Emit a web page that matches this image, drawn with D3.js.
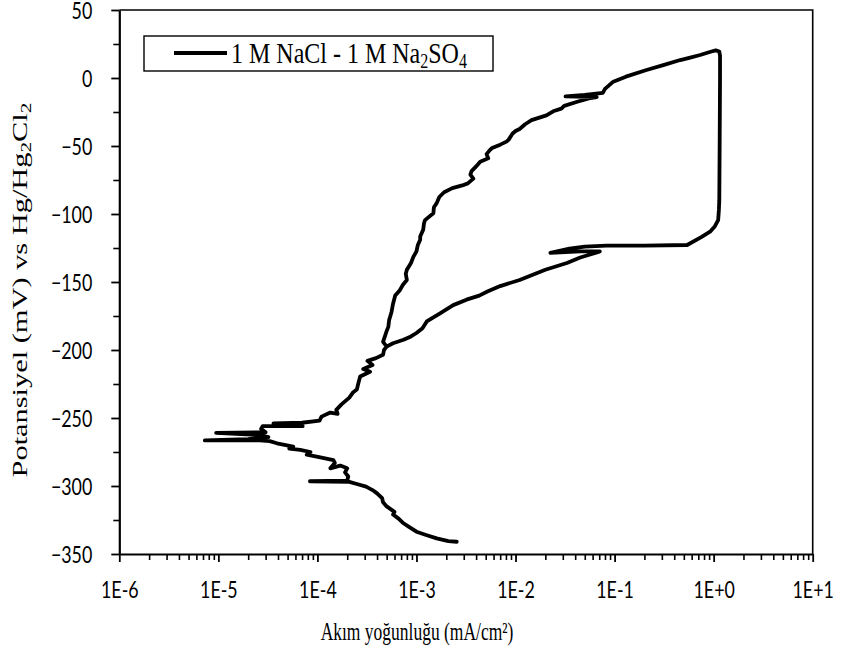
<!DOCTYPE html>
<html><head><meta charset="utf-8">
<script src="https://cdn.jsdelivr.net/npm/d3@7"></script>
<style>body{margin:0;background:#fff}svg{display:block}</style>
</head><body>
<svg id="c" width="845" height="652"></svg>
<script>
// Potential (mV vs Hg/Hg2Cl2) and current density (mA/cm²), in scan order
const potential = [
-341,-340.5,-338.5,-336,-333.6,-330,-327.4,-324,-321,-319,-315,-312,-309,-305.4,-303,-300.5,-298.5,-297,-296.5,-296,
-293,-290,-287,-285,-287,-283,-281,-279,-277,-275,-273.5,-272.5,-271,-268.6,-267,-266.5,-266.5,-265.5,-264,-262.5,
-261,-260.5,-258,-256,-256,-254,-253.5,-252,-249,-246,-247,-244,-240,-235,-231,-229,-224,-219.5,-216,-214,
-211,-208,-206,-203.5,-200,-197.5,-194,-190,-186,-183,-178,-172,-166,-160,-156,-152,-148.5,-144,-141,-136,
-131.5,-127.5,-123,-119,-116.5,-111.5,-107,-104.5,-99.5,-95,-92,-87.5,-84,-81,-79,-77.5,-74,-71,-68.5,-65,
-61.5,-59,-56,-53,-51.5,-49,-46.8,-45.5,-41,-39,-37.5,-34,-31,-27.5,-24.5,-22.5,-20.5,-17.5,-15,-14,
-13.5,-12.5,-11,-8,-2.7,1,5.9,9.5,13.2,15,16.9,19.5,20.3,19.5,16.5,0,-50,-90,-97,-101,
-104.5,-109,-113,-117,-122.8,-123.3,-123.3,-124,-125.5,-128.5,-127.5,-127.5,-128.5,-132,-136,-141,-148.5,-153,-157,-160,
-163,-167,-173,-179,-184,-187.5,-190,-192.5,-195,-197.5
];
const current = [
2.55e-3,2.1e-3,1.6e-3,1.25e-3,1.0e-3,8.4e-4,7.4e-4,6.6e-4,5.8e-4,6.0e-4,5.0e-4,4.6e-4,4.5e-4,4.0e-4,3.6e-4,3.1e-4,2.5e-4,2.1e-4,8.4e-5,2.0e-4,
2.05e-4,1.9e-4,2.0e-4,1.7e-4,1.35e-4,1.5e-4,1.45e-4,1.07e-4,7.8e-5,8.5e-5,6.7e-5,5.2e-5,5.7e-5,3.9e-5,3.3e-5,2.6e-5,7.3e-6,2.0e-5,3.2e-5,2.6e-5,
9.5e-6,3.0e-5,2.7e-5,2.8e-5,7.1e-5,3.6e-5,7.0e-5,1.05e-4,1.1e-4,1.35e-4,1.6e-4,1.55e-4,1.75e-4,2.1e-4,2.3e-4,2.5e-4,2.6e-4,2.7e-4,3.4e-4,2.9e-4,
3.6e-4,3.2e-4,3.9e-4,4.6e-4,4.7e-4,5.0e-4,4.6e-4,4.8e-4,5.0e-4,5.2e-4,5.3e-4,5.6e-4,5.8e-4,6.1e-4,6.8e-4,7.3e-4,8.0e-4,7.8e-4,8.0e-4,8.8e-4,
9.3e-4,1.0e-3,1.03e-3,1.09e-3,1.09e-3,1.17e-3,1.19e-3,1.22e-3,1.48e-3,1.5e-3,1.6e-3,1.7e-3,1.9e-3,2.3e-3,2.9e-3,3.3e-3,3.75e-3,3.5e-3,3.6e-3,4.0e-3,
4.4e-3,5.3e-3,5.1e-3,5.5e-3,5.8e-3,7.0e-3,8.1e-3,8.5e-3,9.3e-3,1.0e-2,1.1e-2,1.25e-2,1.45e-2,2.05e-2,2.4e-2,2.9e-2,3.1e-2,4.2e-2,5.5e-2,6.6e-2,
3.2e-2,5.0e-2,7.6e-2,8.0e-2,9.7e-2,1.3e-1,2.1e-1,3.1e-1,4.6e-1,5.8e-1,7.3e-1,0.95,1.05,1.14,1.16,1.16,1.15,1.14,1.13,1.12,
1.11,1.03,0.92,0.75,0.54,0.2,8.3e-2,5e-2,3.5e-2,2.25e-2,4.5e-2,7.1e-2,6.5e-2,4.5e-2,3.3e-2,2.0e-2,1.1e-2,7e-3,5.2e-3,4.3e-3,
3.2e-3,2.35e-3,1.73e-3,1.27e-3,1.15e-3,1.0e-3,8.8e-4,7.4e-4,5.8e-4,5.0e-4
];
const xTickValues = [1e-6,1e-5,1e-4,1e-3,1e-2,1e-1,1e0,1e1];
const xTickLabels = ["1E-6","1E-5","1E-4","1E-3","1E-2","1E-1","1E+0","1E+1"];
const yTickValues = [-350,-300,-250,-200,-150,-100,-50,0,50];
const yMinorValues = [-325,-275,-225,-175,-125,-75,-25,25];
const seriesName = "1 M NaCl - 1 M Na";

const svg = d3.select("#c");
const L = 119.3, R = 812.7, T = 10, B = 554;
const x = d3.scaleLog().domain([1e-6, 1e1]).range([L, R]);
const y = d3.scaleLinear().domain([-350, 50]).range([B, T]);

const tickFont = "Lato, 'Open Sans', sans-serif";
const serif = "'Liberation Serif', 'Times New Roman', serif";

// frame (top & right)
svg.append("path").attr("d", `M${L},${T}H${R}V${B}`).attr("fill","none").attr("stroke","#000").attr("stroke-width",1.6);

// minor x ticks
const minorX = [];
for (let e = -6; e < 1; e++) for (let m = 2; m <= 9; m++) minorX.push(m * Math.pow(10, e));
svg.append("g").attr("transform",`translate(0,${B})`)
  .call(d3.axisBottom(x).tickValues(minorX).tickSize(6).tickFormat(""))
  .call(g => { g.select(".domain").remove(); g.selectAll("line").attr("stroke-width",1.6); });
// major x axis
svg.append("g").attr("transform",`translate(0,${B})`)
  .call(d3.axisBottom(x).tickValues(xTickValues).tickSize(8).tickSizeOuter(0)
    .tickFormat((d,i) => xTickLabels[i]))
  .call(g => {
    g.select(".domain").attr("stroke-width",2.2);
    g.selectAll("line").attr("stroke-width",1.8);
    g.selectAll("text").attr("y",null).attr("dy",null)
      .attr("transform","translate(0,44) scale(0.94,1.25)")
      .attr("font-family",tickFont).attr("font-size",19).attr("fill","#000");
  });
// minor y ticks
svg.append("g").attr("transform",`translate(${L},0)`)
  .call(d3.axisLeft(y).tickValues(yMinorValues).tickSize(6).tickFormat(""))
  .call(g => { g.select(".domain").remove(); g.selectAll("line").attr("stroke-width",1.6); });
// major y axis
svg.append("g").attr("transform",`translate(${L},0)`)
  .call(d3.axisLeft(y).tickValues(yTickValues).tickSize(8).tickSizeOuter(0))
  .call(g => {
    g.select(".domain").attr("stroke-width",2.2);
    g.selectAll("line").attr("stroke-width",1.8);
    g.selectAll("text").attr("x",null).attr("dy",null)
      .attr("transform","translate(-27,8.5) scale(0.94,1.25)")
      .attr("font-family",tickFont).attr("font-size",19).attr("fill","#000");
  });

// curve
const data = potential.map((p,i) => ({e:p, i:current[i]}));
svg.append("path").datum(data)
  .attr("d", d3.line().x(d => x(d.i)).y(d => y(d.e)))
  .attr("fill","none").attr("stroke","#000").attr("stroke-width",3.8)
  .attr("stroke-linejoin","round").attr("stroke-linecap","round");

// legend
const lg = svg.append("g");
lg.append("rect").attr("x",144).attr("y",36).attr("width",349).attr("height",35)
  .attr("fill","#fff").attr("stroke","#000").attr("stroke-width",1.4);
lg.append("line").attr("x1",174).attr("x2",227).attr("y1",53).attr("y2",53)
  .attr("stroke","#000").attr("stroke-width",3.8);
const lt = lg.append("text").attr("transform","translate(231,63) scale(1,1.25)")
  .attr("font-family",serif).attr("font-size",24).attr("fill","#000");
lt.append("tspan").text(seriesName);
lt.append("tspan").attr("font-size",16).attr("dy",4).text("2");
lt.append("tspan").attr("dy",-4).text("SO");
lt.append("tspan").attr("font-size",16).attr("dy",4).text("4");

// x title
svg.append("text").attr("transform","translate(417,640) scale(1,1.45)").attr("text-anchor","middle")
  .attr("font-family",serif).attr("font-size",17.5).attr("fill","#000").text("Akım yoğunluğu (mA/cm²)");
// y title
const yt = svg.append("text").attr("transform","translate(27,290) rotate(-90) scale(1.52,1)").attr("text-anchor","middle")
  .attr("font-family",serif).attr("font-size",20).attr("fill","#000");
yt.append("tspan").text("Potansiyel (mV) vs Hg/Hg");
yt.append("tspan").attr("font-size",14).attr("dy",4).text("2");
yt.append("tspan").attr("dy",-4).text("Cl");
yt.append("tspan").attr("font-size",14).attr("dy",4).text("2");
</script>
</body></html>
